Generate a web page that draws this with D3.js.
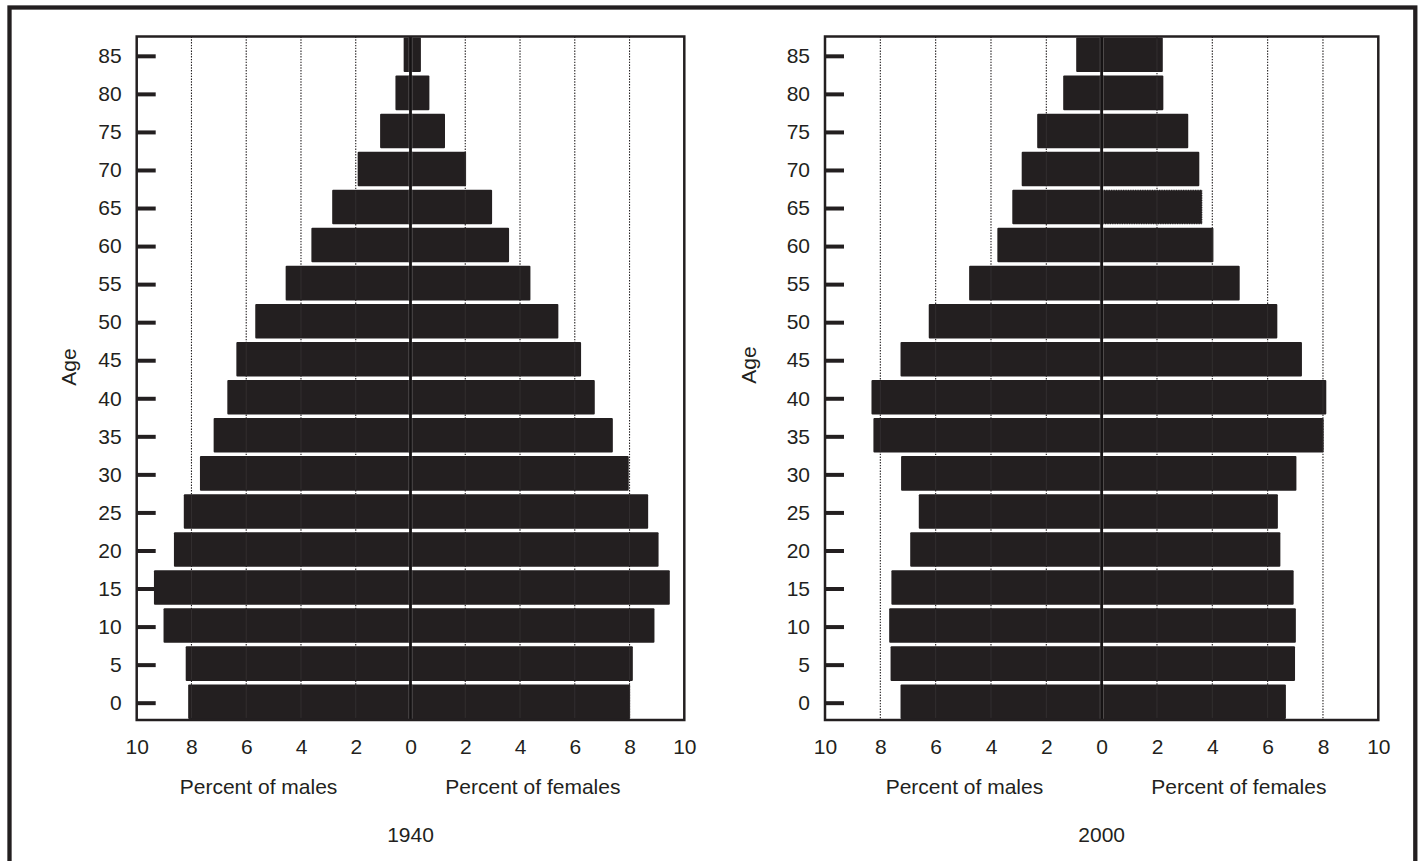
<!DOCTYPE html>
<html>
<head>
<meta charset="utf-8">
<script src="https://cdn.jsdelivr.net/npm/d3@7"></script>
<style>
  html, body { margin: 0; padding: 0; background: #fff; }
  svg { display: block; }
  text { font-family: "Liberation Sans", Arial, Helvetica, sans-serif; fill: #231f20; }
</style>
</head>
<body>
<svg id="chart" width="1421" height="861"></svg>
<script>
// ---------------- data ----------------
const ages = [0, 5, 10, 15, 20, 25, 30, 35, 40, 45, 50, 55, 60, 65, 70, 75, 80, 85];
const males1940   = [8.12, 8.21, 9.02, 9.37, 8.64, 8.28, 7.69, 7.19, 6.69, 6.36, 5.67, 4.56, 3.62, 2.86, 1.93, 1.11, 0.55, 0.25];
const females1940 = [8.02, 8.12, 8.91, 9.47, 9.06, 8.68, 7.97, 7.39, 6.73, 6.23, 5.40, 4.38, 3.60, 2.98, 2.03, 1.26, 0.69, 0.38];
const males2000   = [7.27, 7.63, 7.68, 7.60, 6.92, 6.61, 7.25, 8.25, 8.32, 7.27, 6.25, 4.79, 3.77, 3.23, 2.89, 2.33, 1.39, 0.92];
const females2000 = [6.66, 6.99, 7.02, 6.94, 6.46, 6.37, 7.04, 8.02, 8.12, 7.24, 6.35, 4.99, 4.04, 3.64, 3.53, 3.13, 2.23, 2.21];
const xTicks = [-10, -8, -6, -4, -2, 0, 2, 4, 6, 8, 10];
const gridValues = [-8, -6, -4, -2, 2, 4, 6, 8];
const years = ["1940", "2000"];
const axisTitleY = "Age";
const axisTitleMales = "Percent of males";
const axisTitleFemales = "Percent of females";

// ---------------- layout ----------------
const ink = "#231f20";
const svg = d3.select("#chart");
const plotTop = 36.5, plotBottom = 720;

const panels = [
  { year: years[0], males: males1940, females: females1940,
    x0: 136.7, x1: 684.3, ageX: 68.5, ageY: 367, malesAt: -5.55, femalesAt: 4.47, dotted: null },
  { year: years[1], males: males2000, females: females2000,
    x0: 825, x1: 1378.3, ageX: 749, ageY: 365, malesAt: -4.96, femalesAt: 4.96, dotted: { side: "f", age: 65 } }
];

// outer frame
svg.append("rect")
  .attr("x", 9.5).attr("y", 7.5)
  .attr("width", 1415.3 - 9.5).attr("height", 880)
  .attr("fill", "none").attr("stroke", ink).attr("stroke-width", 4.3);

panels.forEach(p => {
  const g = svg.append("g");
  const x = d3.scaleLinear().domain([-10, 10]).range([p.x0, p.x1]);
  const y = d3.scaleBand().domain(ages).range([plotBottom, plotTop])
    .paddingInner(0.093).paddingOuter(0.028);
  const bw = y.bandwidth();

  const rows = ages.map((a, i) => ({ age: a, m: p.males[i], f: p.females[i] }));

  // dotted gridlines
  g.append("g").selectAll("line").data(gridValues).join("line")
    .attr("x1", d => x(d)).attr("x2", d => x(d))
    .attr("y1", plotTop).attr("y2", plotBottom)
    .attr("stroke", ink).attr("stroke-width", 1.1)
    .attr("stroke-dasharray", "1.4,1.4");

  // male bars
  g.append("g").selectAll("rect").data(rows).join("rect")
    .attr("x", d => x(-d.m)).attr("width", d => x(0) - x(-d.m))
    .attr("y", d => y(d.age)).attr("height", bw)
    .attr("rx", 1)
    .attr("fill", ink);

  // female bars
  g.append("g").selectAll("rect").data(rows).join("rect")
    .attr("x", x(0)).attr("width", d => x(d.f) - x(0))
    .attr("y", d => y(d.age)).attr("height", bw)
    .attr("rx", 1)
    .attr("fill", ink)
    .attr("stroke", d => (p.dotted && p.dotted.side === "f" && p.dotted.age === d.age) ? "#ffffff" : "none")
    .attr("stroke-width", 1)
    .attr("stroke-dasharray", "1.2,1.2");

  // faint grid lines showing through the bars
  const segs = [];
  rows.forEach(r => {
    gridValues.forEach(v => {
      if ((v < 0 && -v < r.m) || (v > 0 && v < r.f)) segs.push({ v, age: r.age });
    });
  });
  g.append("g").selectAll("line").data(segs).join("line")
    .attr("x1", d => x(d.v)).attr("x2", d => x(d.v))
    .attr("y1", d => y(d.age) + 1).attr("y2", d => y(d.age) + bw - 1)
    .attr("stroke", "#363233").attr("stroke-width", 0.8);

  // thin light slit beside the centre line inside the bars
  g.append("g").selectAll("rect").data(rows).join("rect")
    .attr("x", x(0) - 1.8).attr("width", 3.6)
    .attr("y", d => y(d.age)).attr("height", bw)
    .attr("fill", "#8a8788");

  // centre line
  g.append("line")
    .attr("x1", x(0)).attr("x2", x(0)).attr("y1", plotTop).attr("y2", plotBottom)
    .attr("stroke", "#151213").attr("stroke-width", 2.8);

  // plot frame
  g.append("rect")
    .attr("x", p.x0).attr("y", plotTop)
    .attr("width", p.x1 - p.x0).attr("height", plotBottom - plotTop)
    .attr("fill", "none").attr("stroke", ink).attr("stroke-width", 2.5);

  // y axis (ticks pointing inward)
  const yAxis = d3.axisLeft(y).tickSizeInner(-19).tickSizeOuter(0).tickPadding(15);
  const ya = g.append("g").attr("transform", `translate(${p.x0},1.5)`).call(yAxis);
  ya.select(".domain").remove();
  ya.selectAll(".tick line").attr("stroke", ink).attr("stroke-width", 4);
  ya.selectAll(".tick text").attr("font-size", 21).attr("fill", ink)
    .style("font-family", "'Liberation Sans', Arial, Helvetica, sans-serif");

  // x axis (labels only)
  const xAxis = d3.axisBottom(x).tickValues(xTicks).tickSize(0).tickPadding(19)
    .tickFormat(d => Math.abs(d));
  const xa = g.append("g").attr("transform", `translate(0,${plotBottom})`).call(xAxis);
  xa.select(".domain").remove();
  xa.selectAll(".tick text").attr("font-size", 21).attr("fill", ink)
    .style("font-family", "'Liberation Sans', Arial, Helvetica, sans-serif");

  // titles
  g.append("text")
    .attr("transform", `translate(${p.ageX},${p.ageY}) rotate(-90)`)
    .attr("text-anchor", "middle").attr("dy", "0.35em")
    .attr("font-size", 21).text(axisTitleY);

  g.append("text")
    .attr("x", x(p.malesAt)).attr("y", 794)
    .attr("text-anchor", "middle").attr("font-size", 21).text(axisTitleMales);
  g.append("text")
    .attr("x", x(p.femalesAt)).attr("y", 794)
    .attr("text-anchor", "middle").attr("font-size", 21).text(axisTitleFemales);

  g.append("text")
    .attr("x", x(0)).attr("y", 842)
    .attr("text-anchor", "middle").attr("font-size", 21).text(p.year);
});
</script>
</body>
</html>
